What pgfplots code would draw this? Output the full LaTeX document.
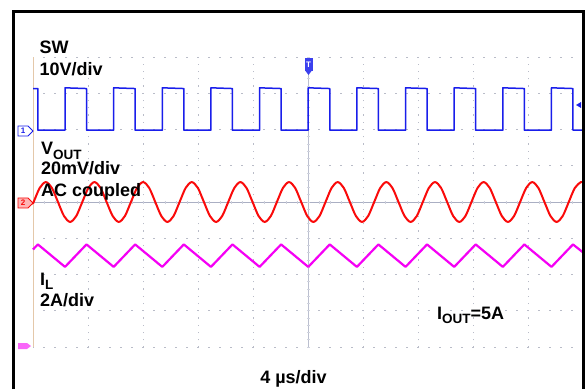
\documentclass[border=0pt]{standalone}
\usepackage{pgfplots}
\pgfplotsset{compat=1.18}
\usepackage{fontspec}
\setmainfont{Liberation Sans}
\definecolor{swblue}{RGB}{25,30,235}
\definecolor{voutred}{RGB}{250,10,10}
\definecolor{ilmag}{RGB}{245,0,245}
\definecolor{gridc}{RGB}{185,188,200}
\definecolor{centc}{RGB}{170,175,195}
\definecolor{tan}{RGB}{228,200,170}
\newcommand{\lbl}{\fontsize{18}{20}\selectfont\bfseries}
\newcommand{\sub}[1]{\raisebox{-4.5pt}{\fontsize{13.5}{14}\selectfont\bfseries #1}}
\begin{document}
\begin{tikzpicture}[x=1pt,y=1pt]
\useasboundingbox (0,0) rectangle (587,389);
\fill[white] (0,0) rectangle (587,389);
\begin{axis}[
  at={(33pt,42pt)}, anchor=south west,
  width=550pt, height=290pt, scale only axis,
  xmin=0, xmax=10, ymin=0, ymax=8,
  xtick={1,...,9}, ytick={0,...,8},
  xticklabels={}, yticklabels={},
  axis line style={draw=none}, tick style={draw=none},
  grid=major,
  x grid style={gridc, line width=1pt, dash pattern=on 1.2pt off 6.05pt, dash phase=0.6pt},
  y grid style={gridc, line width=1pt, dash pattern=on 1.2pt off 9.8pt, dash phase=0.6pt},
  clip=false,
]
% screen decorations
\draw[tan, line width=1pt] (axis cs:0,0) -- (axis cs:0,8);
\draw[centc, line width=0.8pt] (axis cs:0,4) -- (axis cs:10,4);
\draw[centc!60, line width=3pt, dash pattern=on 0.8pt off 10.2pt, dash phase=0.4pt] (axis cs:0,4) -- (axis cs:10,4);
\draw[centc!80, line width=0.7pt] (axis cs:5,0) -- (axis cs:5,8);
\draw[centc!55, line width=3pt, dash pattern=on 0.8pt off 6.45pt, dash phase=0.4pt] (axis cs:5,0) -- (axis cs:5,8);

% SW (channel 1, ground at 6 div)
\addplot[swblue, line width=1.5pt, line join=round] coordinates {
(0,7.13) (0.0885,7.13) (0.0885,5.98) (0.582,5.98)
(0.582,7.15) (0.973,7.13) (0.973,5.98) (1.4665,5.98)
(1.4665,7.15) (1.8575,7.13) (1.8575,5.98) (2.351,5.98)
(2.351,7.15) (2.742,7.13) (2.742,5.98) (3.2355,5.98)
(3.2355,7.15) (3.6265,7.13) (3.6265,5.98) (4.120,5.98)
(4.120,7.15) (4.511,7.13) (4.511,5.98) (5.0045,5.98)
(5.0045,7.15) (5.3955,7.13) (5.3955,5.98) (5.889,5.98)
(5.889,7.15) (6.280,7.13) (6.280,5.98) (6.7735,5.98)
(6.7735,7.15) (7.1645,7.13) (7.1645,5.98) (7.658,5.98)
(7.658,7.15) (8.049,7.13) (8.049,5.98) (8.5425,5.98)
(8.5425,7.15) (8.9335,7.13) (8.9335,5.98) (9.427,5.98)
(9.427,7.15) (9.818,7.13) (9.818,5.98) (10,5.98)
};

% VOUT (channel 2, ground at 4 div)
\addplot[voutred, line width=2pt, smooth] coordinates {
(0,3.954)
(0.0119,4.0) (0.1225,4.389) (0.2330,4.55) (0.3436,4.389) (0.4541,4.0) (0.5647,3.611) (0.6753,3.45) (0.7858,3.611)
(0.8964,4.0) (1.0070,4.389) (1.1175,4.55) (1.2281,4.389) (1.3386,4.0) (1.4492,3.611) (1.5598,3.45) (1.6703,3.611)
(1.7809,4.0) (1.8915,4.389) (2.0020,4.55) (2.1126,4.389) (2.2231,4.0) (2.3337,3.611) (2.4443,3.45) (2.5548,3.611)
(2.6653,4.0) (2.7759,4.389) (2.8864,4.55) (2.9970,4.389) (3.1075,4.0) (3.2181,3.611) (3.3287,3.45) (3.4392,3.611)
(3.5498,4.0) (3.6604,4.389) (3.7709,4.55) (3.8815,4.389) (3.9920,4.0) (4.1026,3.611) (4.2132,3.45) (4.3237,3.611)
(4.4343,4.0) (4.5449,4.389) (4.6554,4.55) (4.7660,4.389) (4.8765,4.0) (4.9871,3.611) (5.0977,3.45) (5.2082,3.611)
(5.3188,4.0) (5.4294,4.389) (5.5399,4.55) (5.6505,4.389) (5.7610,4.0) (5.8716,3.611) (5.9822,3.45) (6.0927,3.611)
(6.2033,4.0) (6.3139,4.389) (6.4244,4.55) (6.5350,4.389) (6.6455,4.0) (6.7561,3.611) (6.8667,3.45) (6.9772,3.611)
(7.0877,4.0) (7.1983,4.389) (7.3088,4.55) (7.4194,4.389) (7.5299,4.0) (7.6405,3.611) (7.7511,3.45) (7.8616,3.611)
(7.9722,4.0) (8.0828,4.389) (8.1933,4.55) (8.3039,4.389) (8.4144,4.0) (8.5250,3.611) (8.6356,3.45) (8.7461,3.611)
(8.8567,4.0) (8.9673,4.389) (9.0778,4.55) (9.1884,4.389) (9.2989,4.0) (9.4095,3.611) (9.5201,3.45) (9.6306,3.611)
(9.7412,4.0) (9.8518,4.389) (9.9623,4.55) (10,4.53)
};

% IL (channel 3, ground at 0 div)
\addplot[ilmag, line width=2.2pt, line join=round] coordinates {
(0,2.69) (0.0885,2.83) (0.582,2.21) (0.973,2.83) (1.4665,2.21) (1.8575,2.83)
(2.351,2.21) (2.742,2.83) (3.2355,2.21) (3.6265,2.83) (4.120,2.21) (4.511,2.83)
(5.0045,2.21) (5.3955,2.83) (5.889,2.21) (6.280,2.83) (6.7735,2.21) (7.1645,2.83)
(7.658,2.21) (8.049,2.83) (8.5425,2.21) (8.9335,2.83) (9.427,2.21) (9.818,2.83)
(10,2.61)
};
\end{axis}

% channel markers
\draw[swblue, fill=white, line width=0.9pt] (18,263) -- (28,263) -- (33,258) -- (28,253) -- (18,253) -- cycle;
\node[swblue, font=\fontsize{8}{8}\selectfont\bfseries, inner sep=0] at (23,258) {1};
\draw[voutred, fill=voutred!30, line width=0.9pt] (18,191) -- (28,191) -- (33,186) -- (28,181) -- (18,181) -- cycle;
\node[voutred, font=\fontsize{8}{8}\selectfont\bfseries, inner sep=0] at (23,186) {2};
\fill[ilmag!60] (18,46) -- (27,46) -- (31,43) -- (27,40) -- (18,40) -- cycle;
\fill[swblue!85] (304.5,331) rectangle (312.5,318);
\fill[swblue!85] (305.5,318) -- (311.5,318) -- (308.5,314) -- cycle;
\node[white, font=\fontsize{8}{8}\selectfont\bfseries, inner sep=0] at (308.5,324.5) {T};
\fill[swblue] (576,284) -- (581,287) -- (581,281) -- cycle;

% labels
\node[anchor=base west, inner sep=0] at (39.5,335) {\lbl SW};
\node[anchor=base west, inner sep=0] at (39.5,313) {\lbl 10V/div};
\node[anchor=base west, inner sep=0] at (41,234) {\lbl V\sub{OUT}};
\node[anchor=base west, inner sep=0] at (41,214) {\lbl 20mV/div};
\node[anchor=base west, inner sep=0] at (41,192) {\lbl AC coupled};
\node[anchor=base west, inner sep=0] at (40,104) {\lbl I\sub{L}};
\node[anchor=base west, inner sep=0] at (40,82.3) {\lbl 2A/div};
\node[anchor=base west, inner sep=0] at (437,70) {\lbl I\sub{OUT}=5A};
\node[anchor=base, inner sep=0] at (293.5,5.7) {\lbl 4 µs/div};

% outer frame
\draw[black, line width=2.6pt] (13.7,0) -- (13.7,377.7) -- (583.3,377.7) -- (583.3,0);
\end{tikzpicture}
\end{document}
